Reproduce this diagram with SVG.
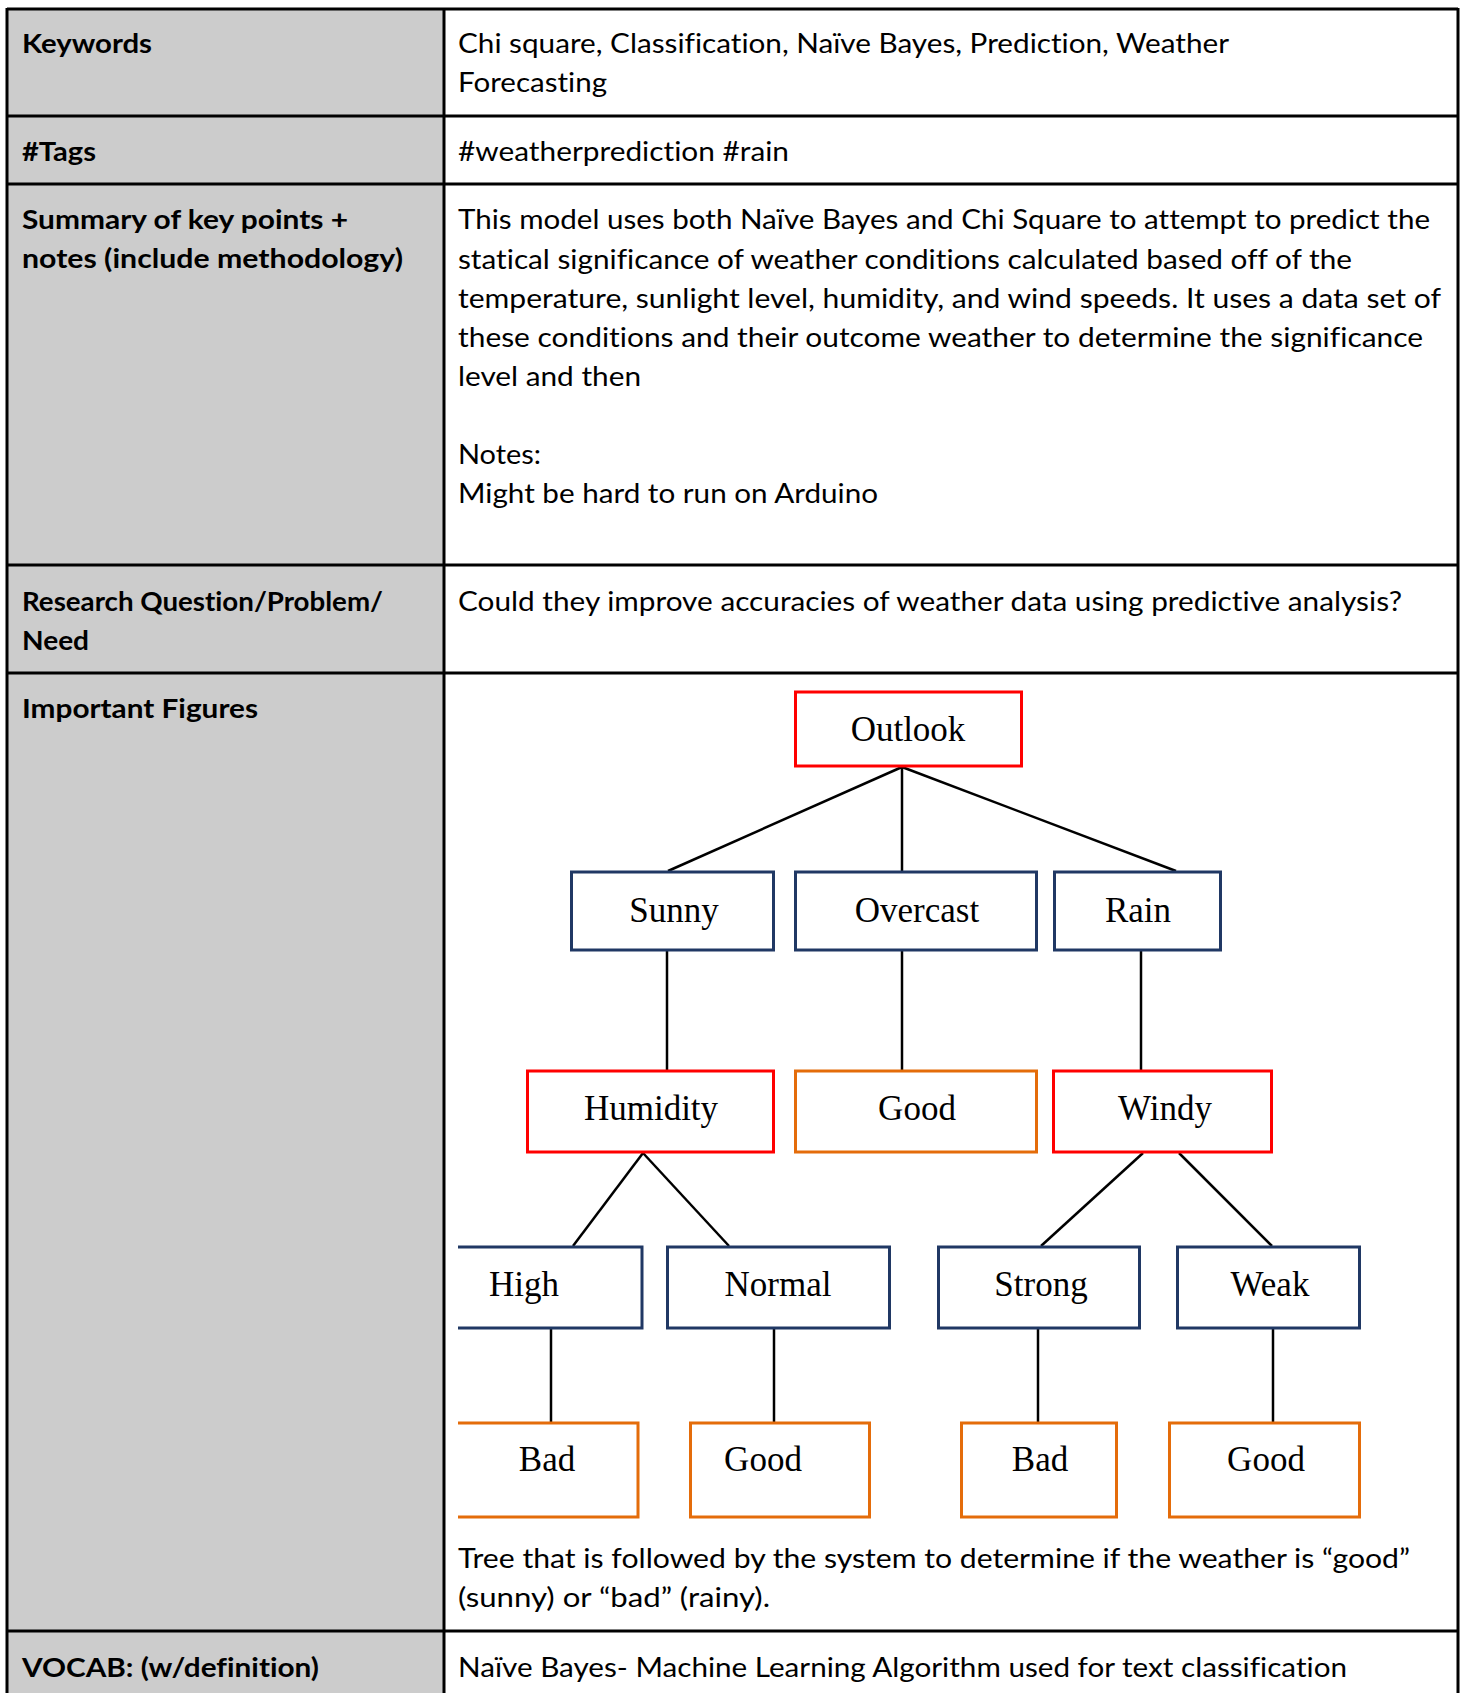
<svg xmlns="http://www.w3.org/2000/svg" width="1463" height="1693" viewBox="0 0 1463 1693">
<style>
.lbl{font-family:Lato,"Open Sans","Liberation Sans",sans-serif;font-weight:bold;font-size:27px;fill:#000;font-variant-ligatures:none}
.txt{font-family:Lato,"Open Sans","Liberation Sans",sans-serif;font-size:27px;fill:#000;font-variant-ligatures:none}
.grid{stroke:#000;stroke-width:3;fill:none}
.tn{font-family:"Liberation Serif","Times New Roman",serif;font-size:35px;fill:#000;text-anchor:middle}
.red{fill:#fff;stroke:#FF0000;stroke-width:3}
.blue{fill:#fff;stroke:#203864;stroke-width:3}
.orange{fill:#fff;stroke:#E46C0A;stroke-width:3}
.openo{fill:none;stroke:#E46C0A;stroke-width:3}
.openb{fill:none;stroke:#203864;stroke-width:3}
.conn line{stroke:#000;stroke-width:2.5}
</style>
<rect x="0" y="0" width="1463" height="1693" fill="#fff"/>
<g id="table">
<rect x="7" y="9" width="437" height="1684" fill="#CCCCCC"/>
<line class="grid" x1="7" y1="9" x2="1458" y2="9"/>
<line class="grid" x1="7" y1="116" x2="1458" y2="116"/>
<line class="grid" x1="7" y1="184" x2="1458" y2="184"/>
<line class="grid" x1="7" y1="565" x2="1458" y2="565"/>
<line class="grid" x1="7" y1="673" x2="1458" y2="673"/>
<line class="grid" x1="7" y1="1631" x2="1458" y2="1631"/>
<line class="grid" x1="7" y1="8" x2="7" y2="1693"/>
<line class="grid" x1="444" y1="8" x2="444" y2="1693"/>
<line class="grid" x1="1458" y1="8" x2="1458" y2="1693"/>
</g>
<g id="labels">
<text class="lbl" x="22" y="53" textLength="130" lengthAdjust="spacingAndGlyphs">Keywords</text>
<text class="lbl" x="22" y="161" textLength="74" lengthAdjust="spacingAndGlyphs">#Tags</text>
<text class="lbl" x="22" y="229" textLength="326" lengthAdjust="spacingAndGlyphs">Summary of key points +</text>
<text class="lbl" x="22" y="268" textLength="381" lengthAdjust="spacingAndGlyphs">notes (include methodology)</text>
<text class="lbl" x="22" y="611" textLength="361" lengthAdjust="spacingAndGlyphs">Research Question/Problem/</text>
<text class="lbl" x="22" y="650" textLength="67" lengthAdjust="spacingAndGlyphs">Need</text>
<text class="lbl" x="22" y="718" textLength="236" lengthAdjust="spacingAndGlyphs">Important Figures</text>
<text class="lbl" x="22" y="1677" textLength="297" lengthAdjust="spacingAndGlyphs">VOCAB: (w/definition)</text>
</g>
<g id="values">
<text class="txt" x="458" y="53" textLength="771" lengthAdjust="spacingAndGlyphs">Chi square, Classification, Naïve Bayes, Prediction, Weather</text>
<text class="txt" x="458" y="92" textLength="149" lengthAdjust="spacingAndGlyphs">Forecasting</text>
<text class="txt" x="458" y="161" textLength="331" lengthAdjust="spacingAndGlyphs">#weatherprediction #rain</text>
<text class="txt" x="458" y="229" textLength="972" lengthAdjust="spacingAndGlyphs">This model uses both Naïve Bayes and Chi Square to attempt to predict the</text>
<text class="txt" x="458" y="269" textLength="894" lengthAdjust="spacingAndGlyphs">statical significance of weather conditions calculated based off of the</text>
<text class="txt" x="458" y="308" textLength="983" lengthAdjust="spacingAndGlyphs">temperature, sunlight level, humidity, and wind speeds. It uses a data set of</text>
<text class="txt" x="458" y="347" textLength="965" lengthAdjust="spacingAndGlyphs">these conditions and their outcome weather to determine the significance</text>
<text class="txt" x="458" y="386" textLength="183" lengthAdjust="spacingAndGlyphs">level and then</text>
<text class="txt" x="458" y="464" textLength="83" lengthAdjust="spacingAndGlyphs">Notes:</text>
<text class="txt" x="458" y="503" textLength="420" lengthAdjust="spacingAndGlyphs">Might be hard to run on Arduino</text>
<text class="txt" x="458" y="611" textLength="944" lengthAdjust="spacingAndGlyphs">Could they improve accuracies of weather data using predictive analysis?</text>
<text class="txt" x="458" y="1568" textLength="952" lengthAdjust="spacingAndGlyphs">Tree that is followed by the system to determine if the weather is “good”</text>
<text class="txt" x="458" y="1607" textLength="312" lengthAdjust="spacingAndGlyphs">(sunny) or “bad” (rainy).</text>
<text class="txt" x="458" y="1677" textLength="889" lengthAdjust="spacingAndGlyphs">Naïve Bayes- Machine Learning Algorithm used for text classification</text>
</g>
<g id="connectors" class="conn">
<line x1="902" y1="767" x2="668" y2="871"/>
<line x1="902" y1="767" x2="902" y2="871"/>
<line x1="902" y1="767" x2="1176" y2="871"/>
<line x1="667" y1="951" x2="667" y2="1070"/>
<line x1="902" y1="951" x2="902" y2="1070"/>
<line x1="1141" y1="951" x2="1141" y2="1070"/>
<line x1="643" y1="1153" x2="573" y2="1246"/>
<line x1="643" y1="1153" x2="729" y2="1246"/>
<line x1="1143" y1="1153" x2="1041" y2="1246"/>
<line x1="1179" y1="1153" x2="1272" y2="1246"/>
<line x1="551" y1="1329" x2="551" y2="1422"/>
<line x1="774" y1="1329" x2="774" y2="1422"/>
<line x1="1038" y1="1329" x2="1038" y2="1422"/>
<line x1="1273" y1="1329" x2="1273" y2="1422"/>
</g>
<g id="node-outlook"><rect class="red" x="795.5" y="692" width="226" height="74"/><text class="tn" x="908" y="741">Outlook</text></g>
<g id="node-sunny"><rect class="blue" x="571.5" y="872" width="202" height="78"/><text class="tn" x="674" y="922">Sunny</text></g>
<g id="node-overcast"><rect class="blue" x="795.5" y="872" width="241" height="78"/><text class="tn" x="917" y="922">Overcast</text></g>
<g id="node-rain"><rect class="blue" x="1054.5" y="872" width="166" height="78"/><text class="tn" x="1138" y="922">Rain</text></g>
<g id="node-humidity"><rect class="red" x="527.5" y="1071" width="246" height="81"/><text class="tn" x="651" y="1120">Humidity</text></g>
<g id="node-good-overcast"><rect class="orange" x="795.5" y="1071" width="241" height="81"/><text class="tn" x="917" y="1120">Good</text></g>
<g id="node-windy"><rect class="red" x="1053.5" y="1071" width="218" height="81"/><text class="tn" x="1165" y="1120">Windy</text></g>
<g id="node-high"><rect x="458" y="1247" width="184" height="81" fill="#fff"/><path class="openb" d="M458 1247 H642 V1328 H458"/><text class="tn" x="524" y="1296">High</text></g>
<g id="node-normal"><rect class="blue" x="667.5" y="1247" width="222" height="81"/><text class="tn" x="778" y="1296">Normal</text></g>
<g id="node-strong"><rect class="blue" x="938.5" y="1247" width="201" height="81"/><text class="tn" x="1041" y="1296">Strong</text></g>
<g id="node-weak"><rect class="blue" x="1177.5" y="1247" width="182" height="81"/><text class="tn" x="1270" y="1296">Weak</text></g>
<g id="node-bad-high"><rect x="458" y="1423" width="180" height="94" fill="#fff"/><path class="openo" d="M458 1423 H638 V1517 H458"/><text class="tn" x="547" y="1471">Bad</text></g>
<g id="node-good-normal"><rect class="orange" x="690.5" y="1423" width="179" height="94"/><text class="tn" x="763" y="1471">Good</text></g>
<g id="node-bad-strong"><rect class="orange" x="961.5" y="1423" width="155" height="94"/><text class="tn" x="1040" y="1471">Bad</text></g>
<g id="node-good-weak"><rect class="orange" x="1169.5" y="1423" width="190" height="94"/><text class="tn" x="1266" y="1471">Good</text></g>
</svg>
